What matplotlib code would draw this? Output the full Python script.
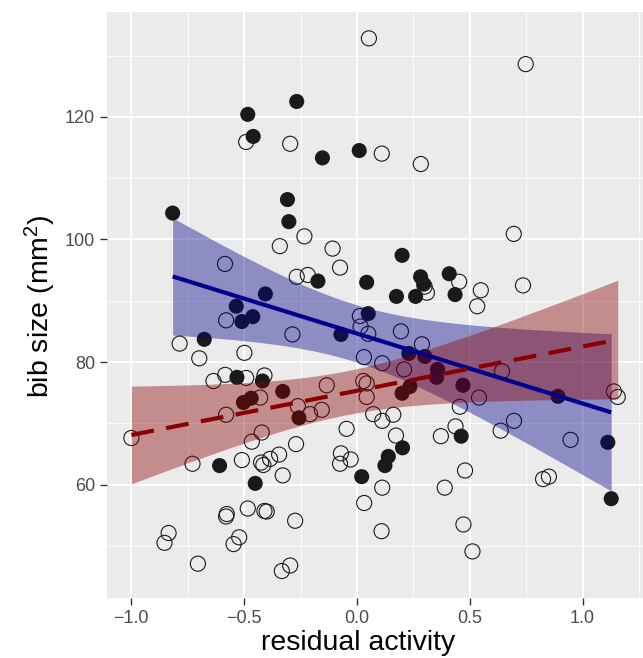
import numpy as np
import matplotlib
matplotlib.use("Agg")
import matplotlib.pyplot as plt
from matplotlib.ticker import MultipleLocator

plt.rcParams['font.family'] = ['Liberation Sans', 'DejaVu Sans']
plt.rcParams['mathtext.default'] = 'regular'

# filled points (blue fit)
filled_x = [-0.267, -0.484, -0.46, -0.153, 0.010, -0.308, -0.302, -0.817, -0.173, 0.043,
            -0.406, 0.2, 0.282, 0.296, 0.409, 0.175, 0.26, 0.435, 0.05, 0.23,
            0.301, 0.357, 0.353, 0.47, 0.235, 0.2, 0.891, 0.462, 1.112, 0.202,
            0.139, 0.124, 1.127, -0.535, -0.51, -0.462, -0.071, -0.677, -0.532, -0.419,
            -0.329, -0.469, -0.503, -0.257, -0.609, -0.451, 0.021]
filled_y = [122.5, 120.4, 116.8, 113.3, 114.5, 106.5, 102.9, 104.3, 93.2, 93.0,
            91.1, 97.4, 93.9, 92.7, 94.4, 90.7, 90.7, 91.0, 87.9, 81.4,
            80.9, 78.8, 77.5, 76.2, 76.0, 74.9, 74.4, 67.9, 66.9, 66.0,
            64.6, 63.1, 57.7, 89.1, 86.6, 87.4, 84.5, 83.7, 77.5, 76.9,
            75.2, 74.1, 73.4, 70.9, 63.1, 60.2, 61.3]

# open points (red dashed fit)
open_x = [0.053, -0.491, -0.296, 0.11, -0.233, -0.342, -0.108, -0.075, -0.585, -0.267,
          -0.218, 0.748, 0.283, 0.695, 0.30, 0.31, 0.453, 0.549, 0.736, 0.533,
          0.195, 0.288, 0.112, 0.209, 0.643, 0.541, 1.139, 1.156, 0.456, 0.072,
          0.112, 0.161, 0.696, 0.637, 0.437, 0.173, 0.372, 0.947, 0.479, 0.825,
          0.851, 0.112, 0.389, 0.472, 0.109, 0.512, -0.58, -0.286, 0.013, 0.016,
          0.05, -0.786, -0.499, -0.699, 0.031, -0.584, -0.491, -0.636, -0.41, -0.134,
          0.028, 0.043, 0.043, -0.429, -0.262, -0.156, -0.208, -0.58, -1.0, -0.422,
          -0.046, -0.466, -0.27, -0.071, -0.075, -0.028, -0.345, -0.385, -0.425, -0.415,
          -0.51, -0.729, -0.329, 0.032, -0.484, -0.41, -0.4, -0.577, -0.58, -0.274,
          -0.835, -0.853, -0.522, -0.547, -0.705, -0.296, -0.333]
open_y = [132.8, 115.9, 115.6, 114.0, 100.5, 98.9, 98.5, 95.4, 96.0, 93.9,
          94.2, 128.6, 112.3, 100.9, 92.3, 91.3, 93.1, 91.7, 92.5, 89.1,
          85.0, 82.9, 79.8, 78.8, 78.5, 74.2, 75.2, 74.3, 72.7, 71.5,
          70.4, 71.4, 70.4, 68.8, 69.5, 68.0, 67.9, 67.3, 62.3, 60.9,
          61.3, 59.5, 59.5, 53.5, 52.4, 49.1, 86.8, 84.5, 87.5, 85.8,
          84.6, 83.0, 81.5, 80.6, 80.8, 77.9, 77.4, 76.9, 77.8, 76.2,
          76.9, 76.5, 74.3, 74.2, 72.8, 72.2, 71.5, 71.4, 67.6, 68.5,
          69.1, 67.0, 66.6, 65.1, 63.4, 64.1, 64.9, 64.2, 63.6, 63.2,
          64.0, 63.4, 61.5, 57.0, 56.1, 55.7, 55.6, 55.2, 54.8, 54.1,
          52.1, 50.5, 51.4, 50.3, 47.1, 46.8, 45.9]

x_ticks = [-1.0, -0.5, 0.0, 0.5, 1.0]
y_ticks = [60, 80, 100, 120]


def lm_band(x, y, n_grid=80):
    # ordinary least squares with a 95% confidence band, like geom_smooth(method="lm")
    x = np.asarray(x)
    y = np.asarray(y)
    n = len(x)
    slope, icpt = np.polyfit(x, y, 1)
    resid = y - (icpt + slope * x)
    df = n - 2
    s = np.sqrt(np.sum(resid ** 2) / df)
    t = 1.96 + 2.5 / df
    xg = np.linspace(x.min(), x.max(), n_grid)
    fit = icpt + slope * xg
    se = s * np.sqrt(1.0 / n + (xg - x.mean()) ** 2 / np.sum((x - x.mean()) ** 2))
    return xg, fit, fit - t * se, fit + t * se


fig = plt.figure(figsize=(6.43, 6.58), dpi=100)
ax = fig.add_axes([107 / 643, 60 / 658, 536 / 643, 586 / 658])
ax.set_facecolor('#EBEBEB')

ax.scatter(open_x, open_y, s=118, facecolors='none', edgecolors='#1a1a1a',
           linewidths=0.8, zorder=3)
ax.scatter(filled_x, filled_y, s=118, color='#1a1a1a', edgecolors='none', zorder=3)

xg, fit, lo, hi = lm_band(filled_x, filled_y)
ax.fill_between(xg, lo, hi, color='darkblue', alpha=0.4, linewidth=0, zorder=4)
ax.plot(xg, fit, color='darkblue', lw=3, zorder=5, solid_capstyle='butt')

xg, fit, lo, hi = lm_band(open_x, open_y)
ax.fill_between(xg, lo, hi, color='darkred', alpha=0.4, linewidth=0, zorder=4)
ax.plot(xg, fit, color='darkred', lw=3, dashes=(5.5, 3), zorder=5, dash_capstyle='butt')

ax.set_xlim(-1.108, 1.268)
ax.set_ylim(41.5, 137.1)
ax.set_xticks(x_ticks)
ax.set_xticklabels(['\u22121.0', '\u22120.5', '0.0', '0.5', '1.0'])
ax.set_yticks(y_ticks)
ax.xaxis.set_minor_locator(MultipleLocator(0.25))
ax.yaxis.set_minor_locator(MultipleLocator(10))

ax.grid(which='major', color='white', lw=1.3, zorder=0)
ax.grid(which='minor', color='white', lw=0.6, zorder=0)
ax.set_axisbelow(True)
for sp in ax.spines.values():
    sp.set_visible(False)

ax.tick_params(which='major', length=5, width=1, color='#333333',
               labelsize=13, labelcolor='#4D4D4D', pad=3.5)
ax.tick_params(which='minor', length=0)

ax.set_xlabel('residual activity', fontsize=20.5, color='black')
ax.xaxis.set_label_coords(0.468, -0.055)
ax.set_ylabel('bib size (mm$^2$)', fontsize=20.5, color='black')
ax.yaxis.set_label_coords(-0.092, 0.497)

fig.savefig('out.png', dpi=100)
